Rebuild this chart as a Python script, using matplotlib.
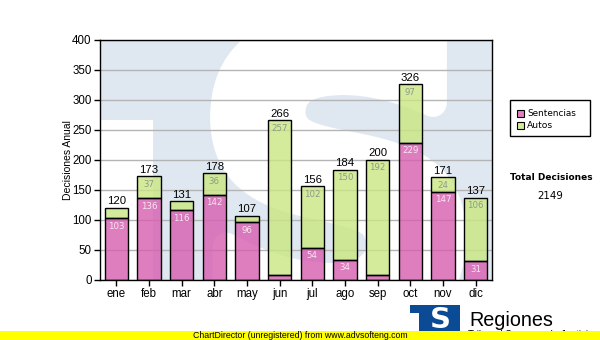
import matplotlib
matplotlib.use("Agg")
import matplotlib.pyplot as plt
from matplotlib.patches import Rectangle, PathPatch
from matplotlib.textpath import TextPath
from matplotlib.font_manager import FontProperties
from matplotlib.transforms import Affine2D

months = ["ene", "feb", "mar", "abr", "may", "jun", "jul", "ago", "sep", "oct", "nov", "dic"]
sentencias = [103, 136, 116, 142, 96, 9, 54, 34, 8, 229, 147, 31]
autos = [17, 37, 15, 36, 11, 257, 102, 150, 192, 97, 24, 106]
series_names = ["Sentencias", "Autos"]
y_ticks = [0, 50, 100, 150, 200, 250, 300, 350, 400]

totals = [s + a for s, a in zip(sentencias, autos)]
grand_total = sum(totals)

W, H = 600, 340
fig = plt.figure(figsize=(W / 100, H / 100), dpi=100)
fig.patch.set_facecolor("white")


def fx(px):
    return px / W


def fy(py):
    return 1 - py / H


def fit_width(txt, target_px):
    """Shrink or grow a text so that it spans target_px pixels."""
    r = fig.canvas.get_renderer()
    w = txt.get_window_extent(r).width
    txt.set_fontsize(txt.get_fontsize() * target_px / w)


ax = fig.add_axes([fx(100), fy(280), fx(492) - fx(100), fy(40) - fy(280)])
ax.set_xlim(-0.5, 11.5)
ax.set_ylim(0, 400)

# watermark: light blue field with a white notch at the left and a heavy white "S"
wm_blue = "#dfe8f1"
ax.set_facecolor(wm_blue)
notch = Rectangle((fx(100), fy(280)), fx(153) - fx(100), fy(120) - fy(280),
                  transform=fig.transFigure, facecolor="white", edgecolor="none", zorder=0.1)
ax.add_patch(notch)
notch.set_clip_path(ax.patch)
sp = TextPath((0, 0), "S", size=100, prop=FontProperties(family="DejaVu Sans", weight="bold"))
ext = sp.get_extents()
x0, x1, y0, y1 = 224, 452, 26, 332
sx = (fx(x1) - fx(x0)) / ext.width
sy = (fy(y0) - fy(y1)) / ext.height
tr = Affine2D().translate(-ext.x0, -ext.y0).scale(sx, sy).translate(fx(x0), fy(y1))
s_patch = PathPatch(tr.transform_path(sp), facecolor="white", edgecolor="white",
                    linewidth=20, joinstyle="round", transform=fig.transFigure, zorder=0.2)
ax.add_patch(s_patch)
s_patch.set_clip_path(ax.patch)

ax.set_yticks(y_ticks)
ax.yaxis.grid(True, color="#b4b4b4", linewidth=1.0, zorder=0.5)
ax.set_axisbelow(True)

pink = "#d85eb0"
green = "#c9e781"
xs = list(range(len(months)))
ax.bar(xs, sentencias, width=0.72, color=pink, alpha=0.8, edgecolor="none", zorder=2)
ax.bar(xs, autos, width=0.72, bottom=sentencias, color=green, alpha=0.8, edgecolor="none", zorder=2)
ax.bar(xs, sentencias, width=0.72, fill=False, edgecolor="black", linewidth=1.0, zorder=3)
ax.bar(xs, autos, width=0.72, bottom=sentencias, fill=False, edgecolor="black", linewidth=1.0, zorder=3)

lab_font = dict(family="DejaVu Sans", fontsize=6.2)
for i in xs:
    ax.annotate(str(totals[i]), (i, totals[i]), xytext=(0, 1.2), textcoords="offset points",
                ha="center", va="bottom", fontsize=8.2, family="Liberation Sans", color="black", zorder=4)
    if sentencias[i] >= 20:
        ax.annotate(str(sentencias[i]), (i, sentencias[i]), xytext=(0, -2.5), textcoords="offset points",
                    ha="center", va="top", color="#f6e6f2", zorder=4, **lab_font)
    if autos[i] >= 20:
        ax.annotate(str(autos[i]), (i, totals[i]), xytext=(0, -2.5), textcoords="offset points",
                    ha="center", va="top", color="#8f9a8a", zorder=4, **lab_font)

ax.set_xticks(xs)
ax.set_xticklabels(months, family="Liberation Sans", fontsize=8.3)
ax.set_yticklabels([str(v) for v in y_ticks], family="Liberation Sans", fontsize=8.3)
ax.tick_params(axis="both", direction="out", length=4, width=1, color="black", pad=2)
for s in ax.spines.values():
    s.set_color("black")
    s.set_linewidth(1.0)
ax.set_ylabel("Decisiones Anual", family="Liberation Sans", fontsize=7.5)
ax.yaxis.set_label_coords((73 - 100) / 392, 0.5)

# legend box
fig.patches.append(Rectangle((fx(510), fy(136)), fx(590) - fx(510), fy(100) - fy(136),
                             transform=fig.transFigure, facecolor="white", edgecolor="black",
                             linewidth=1.0))
leg_widths = [49, 26]
for name, col, py, wpx in zip(series_names, ["#e07ec0", "#d4ec9a"], [113.5, 125.5], leg_widths):
    fig.patches.append(Rectangle((fx(517), fy(py + 3.5)), fx(7), fy(0) - fy(7),
                                 transform=fig.transFigure, facecolor=col, edgecolor="black",
                                 linewidth=0.8))
    t = fig.text(fx(527), fy(py), name, family="DejaVu Sans", fontsize=7, va="center", ha="left")
    fit_width(t, wpx)

t = fig.text(fx(551), fy(178), "Total Decisiones", family="DejaVu Sans", weight="bold",
             fontsize=7, ha="center", va="center")
fit_width(t, 83)
t = fig.text(fx(550), fy(196.5), str(grand_total), family="DejaVu Sans", fontsize=7,
             ha="center", va="center")
fit_width(t, 26)

# logo at the bottom right
fig.patches.append(Rectangle((fx(410), fy(332)), fx(50), fy(305) - fy(332),
                             transform=fig.transFigure, facecolor="#0b4a94", edgecolor="none"))
fig.patches.append(Rectangle((fx(410), fy(332)), fx(9), fy(313) - fy(332),
                             transform=fig.transFigure, facecolor="white", edgecolor="none"))
fig.text(fx(440), fy(320), "S", family="DejaVu Sans", weight="bold", fontsize=21,
         color="white", ha="center", va="center")
t = fig.text(fx(469), fy(326), "Regiones", family="Liberation Sans", fontsize=14,
             ha="left", va="baseline")
fit_width(t, 84)
fig.text(fx(468), fy(338), "Tribunal Supremo de Justicia", family="Liberation Sans",
         fontsize=7, ha="left", va="baseline")

# footer band
fig.patches.append(Rectangle((0, 0), 1, fy(331), transform=fig.transFigure,
                             facecolor="#ffff00", edgecolor="none", zorder=5))
fig.text(0.5, fy(335.5), "ChartDirector (unregistered) from www.advsofteng.com",
         family="Liberation Sans", fontsize=6.3, ha="center", va="center", zorder=6)

fig.savefig("out.png", dpi=100)
